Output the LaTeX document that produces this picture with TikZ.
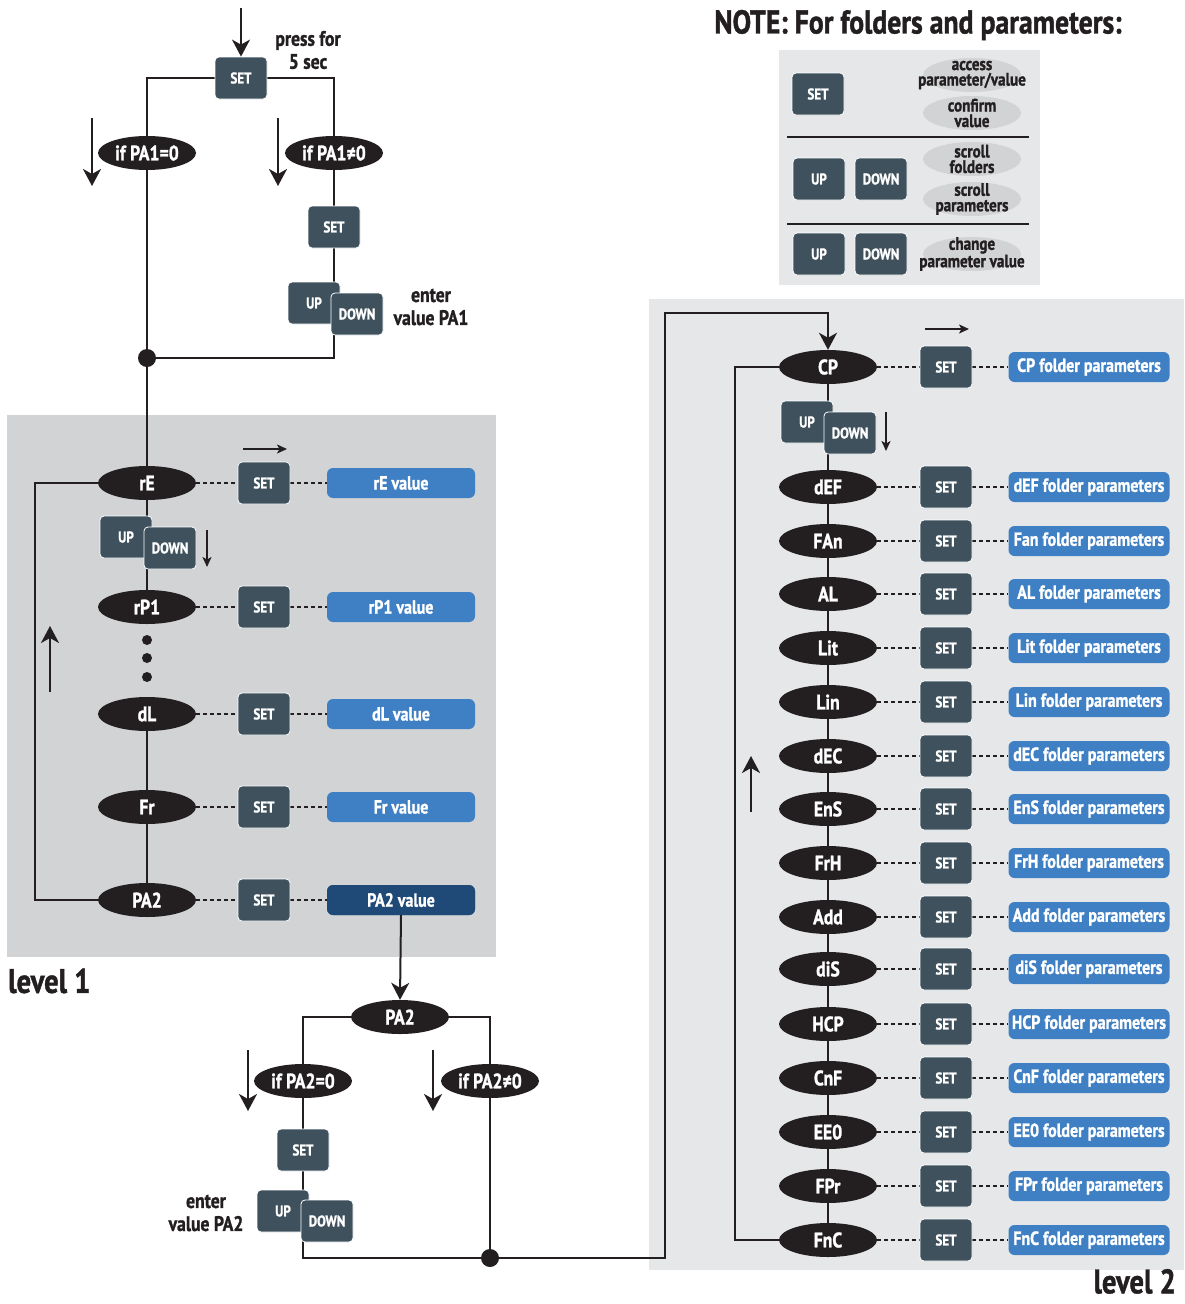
\documentclass[tikz,border=0pt]{standalone}
\usepackage{fontspec}
\setmainfont{PT Sans}[FakeStretch=0.84,BoldFont={PT Sans Bold},BoldFeatures={FakeBold=1.2}]
\usetikzlibrary{shapes.geometric,arrows.meta}
\definecolor{btn}{HTML}{3E515C}
\definecolor{blk}{HTML}{231F20}
\definecolor{valb}{HTML}{3F7FC4}
\definecolor{vald}{HTML}{1F4A78}
\definecolor{lvlA}{HTML}{D1D3D5}
\definecolor{lvlB}{HTML}{E6E7E8}
\definecolor{gov}{HTML}{D1D3D5}
\pgfdeclarelayer{panel}
\pgfdeclarelayer{wires}
\pgfsetlayers{panel,wires,main}
\tikzset{
 btn/.style={rectangle,rounded corners=4pt,fill=btn,draw=white,line width=0.8pt,minimum width=52pt,minimum height=42pt,text=white,font=\fontsize{15.5}{16}\selectfont\bfseries,inner sep=0pt},
 oval/.style={ellipse,fill=blk,minimum width=98pt,minimum height=34pt,inner sep=0pt,text=white,font=\fontsize{21}{22}\selectfont\bfseries},
 valbox/.style={rectangle,rounded corners=6pt,fill=valb,minimum width=148pt,minimum height=30pt,text=white,font=\fontsize{19}{20}\selectfont\bfseries,inner sep=0pt},
 fold/.style={valbox,minimum width=161pt},
 wire/.style={line width=2pt,draw=blk},
 dwire/.style={line width=1.6pt,draw=blk,dash pattern=on 4pt off 3pt},
 arr/.style={wire,-{Stealth[length=17pt,width=18pt,inset=5pt]}},
 sarr/.style={line width=1.6pt,draw=blk,-{Stealth[length=10pt,width=9pt,inset=2.5pt]}},
 lbl/.style={font=\fontsize{21}{23}\selectfont\bfseries,align=center,text=blk},
 jdot/.style={circle,fill=blk,minimum size=18pt,inner sep=0pt},
 sdot/.style={circle,fill=blk,minimum size=10pt,inner sep=0pt},
 gel/.style={ellipse,fill=gov,minimum width=98pt,minimum height=34pt,inner sep=0pt},
 ntxt/.style={font=\fontsize{18}{15.5}\selectfont\bfseries,align=center,text=blk,inner sep=0pt},
 big/.style={font=\fontsize{34}{34}\selectfont\bfseries,text=blk,inner sep=0pt},
}
\begin{document}
\begin{tikzpicture}[x=1pt,y=-1pt]
\useasboundingbox (0,0) rectangle (1184,1304);
\begin{pgfonlayer}{panel}
\fill[lvlA] (7,415) rectangle (496,957);
\fill[lvlB] (649,299) rectangle (1184,1270);
\fill[lvlB] (779,50) rectangle (1040,285);
\end{pgfonlayer}

% ---------- top ----------
\node[btn] (s0) at (241,78) {SET};
\coordinate (in0) at (241,8);
\node[lbl] (press) at (308,50) {press for\\5 sec};
\node[oval] (ifa) at (147,153) {if PA1=0};
\node[oval] (ifb) at (334,153) {if PA1≠0};
\node[btn] (s1) at (334,227) {SET};
\node[btn] (u1) at (314,303) {UP};
\node[btn] (d1) at (357,314) {DOWN};
\node[lbl] (ent1) at (431,307) {enter\\value PA1};
\node[jdot] (j1) at (147,358) {};
\coordinate (a1s) at (92,118); \coordinate (a1e) at (92,186);
\coordinate (a2s) at (278,118); \coordinate (a2e) at (278,186);
\draw[arr] (in0) -- (s0.north);
\draw[arr] (a1s) -- (a1e);
\draw[arr] (a2s) -- (a2e);

% ---------- level 1 ----------
\foreach \n/\y/\v in {rE/483/rE value, rP1/607/rP1 value, dL/714/dL value, Fr/807/Fr value, PA2/900/PA2 value}{
  \node[oval] (o\n) at (147,\y) {\n};
  \node[btn] (t\n) at (264,\y) {SET};
  \node[valbox] (v\n) at (401,\y) {\v};
  \begin{pgfonlayer}{wires}
  \draw[dwire] (o\n.east) -- (t\n.west);
  \draw[dwire] (t\n.east) -- (v\n.west);
  \end{pgfonlayer}
}
\node[valbox,fill=vald] at (vPA2) {PA2 value};
\node[btn] (u2) at (126,537) {UP};
\node[btn] (d2) at (170,548) {DOWN};
\node[sdot] (p1) at (147,640) {};
\node[sdot] (p2) at (147,658) {};
\node[sdot] (p3) at (147,677) {};
\coordinate (L1) at (35,700);
\coordinate (r1s) at (243,449); \coordinate (r1e) at (287,449);
\coordinate (dd1s) at (207,530); \coordinate (dd1e) at (207,567);
\coordinate (uu1s) at (50,692); \coordinate (uu1e) at (50,626);
\draw[sarr] (r1s) -- (r1e);
\draw[sarr] (dd1s) -- (dd1e);
\draw[arr] (uu1s) -- (uu1e);
\node[big,anchor=west] (lev1) at (8,981) {level 1};

% ---------- bottom ----------
\node[oval] (pb) at (400,1017) {PA2};
\node[oval] (ifc) at (303,1081) {if PA2=0};
\node[oval] (ifd) at (490,1081) {if PA2≠0};
\node[btn] (s2) at (303,1150) {SET};
\node[btn] (u3) at (283,1211) {UP};
\node[btn] (d3) at (327,1221) {DOWN};
\node[lbl] (ent2) at (206,1213) {enter\\value PA2};
\node[jdot] (j2) at (490,1258) {};
\coordinate (a3s) at (248,1050); \coordinate (a3e) at (248,1111);
\coordinate (a4s) at (433,1050); \coordinate (a4e) at (433,1111);
\draw[arr] (a3s) -- (a3e);
\draw[arr] (a4s) -- (a4e);
\draw[arr] (vPA2.south) -- (pb.north);

% ---------- level 2 ----------
\foreach \n/\y/\v in {CP/367/CP, dEF/487/dEF, FAn/541/Fan, AL/594/AL, Lit/648/Lit, Lin/702/Lin, dEC/756/dEC, EnS/809/EnS, FrH/863/FrH, Add/917/Add, diS/969/diS, HCP/1024/HCP, CnF/1078/CnF, EE0/1132/EE0, FPr/1186/FPr, FnC/1240/FnC}{
  \node[oval] (f\n) at (828,\y) {\n};
  \node[btn] (g\n) at (946,\y) {SET};
  \node[fold] (h\n) at (1089,\y) {\v{} folder parameters};
  \begin{pgfonlayer}{wires}
  \draw[dwire] (f\n.east) -- (g\n.west);
  \draw[dwire] (g\n.east) -- (h\n.west);
  \end{pgfonlayer}
}
\node[btn] (u4) at (807,422) {UP};
\node[btn] (d4) at (850,433) {DOWN};
\coordinate (lp) at (665,313);
\coordinate (L2) at (735,800);
\coordinate (r2s) at (925,329); \coordinate (r2e) at (969,329);
\coordinate (dd2s) at (886,412); \coordinate (dd2e) at (886,451);
\coordinate (uu2s) at (751,812); \coordinate (uu2e) at (751,756);
\draw[sarr] (r2s) -- (r2e);
\draw[sarr] (dd2s) -- (dd2e);
\draw[arr] (uu2s) -- (uu2e);
\node[big,anchor=south east] (lev2) at (1176,1294) {level 2};

% ---------- note ----------
\node[font=\fontsize{33}{36}\selectfont\bfseries,text=blk,inner sep=0pt] (note) at (918,25) {NOTE: For folders and parameters:};
\node[btn] (ns) at (818,94) {SET};
\node[btn] (nu1) at (819,179) {UP};
\node[btn] (nd1) at (881,179) {DOWN};
\node[btn] (nu2) at (819,254) {UP};
\node[btn] (nd2) at (881,254) {DOWN};
\node[gel] (e1) at (972,75) {};
\node[gel] (e2) at (972,113) {};
\node[gel] (e3) at (972,159) {};
\node[gel] (e4) at (972,199) {};
\node[gel] (e5) at (972,254) {};
\node[ntxt] at (e1) {access\\parameter/value};
\node[ntxt] at (e2) {confirm\\value};
\node[ntxt] at (e3) {scroll\\folders};
\node[ntxt] at (e4) {scroll\\parameters};
\node[ntxt] at (e5) {change\\parameter value};
\draw[line width=2pt,blk] (787,137) -- (1029,137);
\draw[line width=2pt,blk] (787,224) -- (1029,224);

% ---------- wires ----------
\begin{pgfonlayer}{wires}
\draw[wire] (s0.west) -| (ifa.north);
\draw[wire] (ifa.south) -- (j1);
\draw[wire] (s0.east) -| (ifb.north);
\draw[wire] (ifb.south) -- (ifb.south |- j1) -- (j1);
\draw[wire] (j1) -- (orE) -- (orP1);
\draw[wire] (odL) -- (oFr) -- (oPA2);
\draw[wire] (oPA2.west) -- (oPA2.west -| L1) |- (orE.west);
\draw[wire] (pb.west) -| (ifc.north);
\draw[wire] (ifc.south) -- (ifc.south |- j2) -- (j2);
\draw[wire] (pb.east) -| (ifd.north);
\draw[wire] (ifd.south) -- (j2);
\draw[arr] (j2) -| (lp) -| (fCP.north);
\draw[wire] (fCP) -- (fFnC);
\draw[wire] (fFnC.west) -- (fFnC.west -| L2) |- (fCP.west);
\end{pgfonlayer}
\end{tikzpicture}
\end{document}
